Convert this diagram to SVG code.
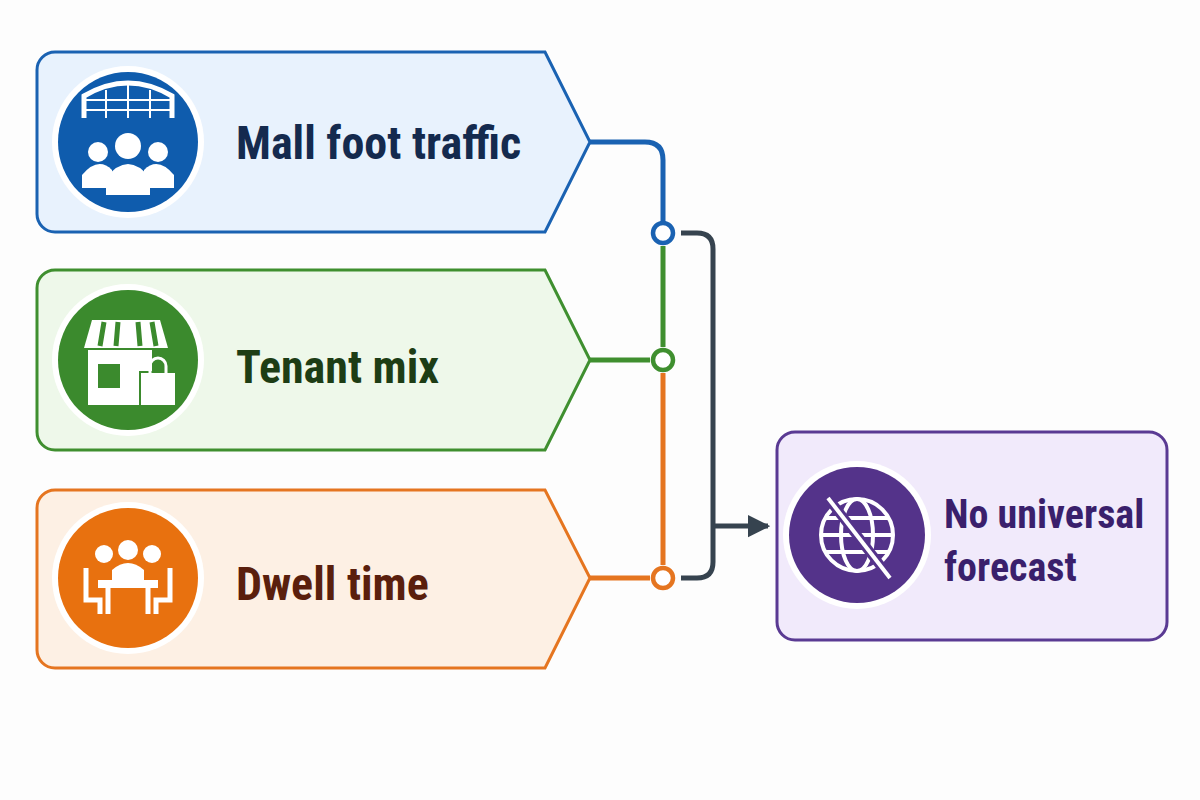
<svg xmlns="http://www.w3.org/2000/svg" width="1200" height="800" viewBox="0 0 1200 800">
<style>
.lbl{font-family:"Liberation Sans Narrow","Roboto Condensed","Liberation Sans",Arial,sans-serif;font-weight:bold;font-size:46px}
.w{fill:#fff}
.ws{stroke:#fff;fill:none}
</style>
<defs>
<marker id="ah" viewBox="0 0 10 10" refX="9" refY="5" markerWidth="4.5" markerHeight="5.5" orient="auto"><path d="M0,0L10,5L0,10z" fill="#36434f"/></marker>
</defs>
<rect width="1200" height="800" fill="#fdfdfd"/>
<g id="n1">
<path d="M55,52H545L590,142L545,232H55A18,18 0 0 1 37,214V70A18,18 0 0 1 55,52Z" fill="#e8f2fd" stroke="#1a62b2" stroke-width="3"/>
<circle cx="128" cy="142" r="76" fill="#fff"/><circle cx="128" cy="142" r="70" fill="#0f5cad"/>
<path d="M84,118V96Q128,70 172,96V118" class="ws" stroke-width="5"/>
<path d="M86,100H170M106,90V118M128,84V118M150,90V118M86,110H170" class="ws" stroke-width="2"/>
<circle cx="128" cy="146" r="13" class="w"/><path d="M106,195V178Q128,150 150,178V195Z" class="w"/>
<circle cx="98" cy="152" r="10" class="w"/><path d="M82,188V175Q98,156 112,170V188Z" class="w"/>
<circle cx="158" cy="152" r="10" class="w"/><path d="M144,170Q158,156 174,175V188H144Z" class="w"/>
<text x="236" y="159" class="lbl" fill="#142a4e">Mall foot traffic</text>
</g>
<g id="n2">
<path d="M55,270H545L590,360L545,450H55A18,18 0 0 1 37,432V288A18,18 0 0 1 55,270Z" fill="#eef8ea" stroke="#3f8f2f" stroke-width="3"/>
<circle cx="128" cy="360" r="76" fill="#fff"/><circle cx="128" cy="360" r="70" fill="#3b8a2d"/>
<path d="M92,320H160L168,348H84Z" class="w"/>
<path d="M104,322L100,346M118,322L116,346M138,322L140,346M152,322L156,346" stroke="#3b8a2d" stroke-width="5"/>
<rect x="88" y="350" width="64" height="55" class="w"/><rect x="98" y="364" width="22" height="24" fill="#3b8a2d"/>
<rect x="140" y="372" width="36" height="34" class="w" stroke="#3b8a2d" stroke-width="2"/>
<path d="M150,374V366A8,8 0 0 1 166,366V374" class="ws" stroke-width="3"/>
<text x="236" y="383" class="lbl" fill="#1d3d15">Tenant mix</text>
</g>
<g id="n3">
<path d="M55,490H545L590,578L545,668H55A18,18 0 0 1 37,650V508A18,18 0 0 1 55,490Z" fill="#fdf0e4" stroke="#e57520" stroke-width="3"/>
<circle cx="128" cy="578" r="76" fill="#fff"/><circle cx="128" cy="578" r="70" fill="#e8710f"/>
<circle cx="128" cy="550" r="10" class="w"/><path d="M112,580V570Q128,556 144,570V580Z" class="w"/>
<circle cx="104" cy="554" r="9" class="w"/><circle cx="152" cy="554" r="9" class="w"/>
<rect x="98" y="580" width="60" height="8" class="w"/><path d="M108,588V614M148,588V614" class="ws" stroke-width="5"/>
<path d="M86,568V600H100V614M170,568V600H156V614" class="ws" stroke-width="5"/>
<text x="236" y="600" class="lbl" fill="#5a1f0d">Dwell time</text>
</g>
<g id="n4">
<rect x="777" y="432" width="390" height="208" rx="18" fill="#f1eafb" stroke="#5a3a93" stroke-width="3"/>
<circle cx="857" cy="535" r="74" fill="#fff"/><circle cx="857" cy="535" r="68" fill="#54338a"/>
<g class="ws" stroke-width="4"><circle cx="857" cy="535" r="36"/><ellipse cx="857" cy="535" rx="16" ry="36"/><path d="M821,535H893M826,518H888M826,552H888"/></g>
<path d="M828,498L890,578" stroke="#54338a" stroke-width="10"/><path d="M828,498L890,578" stroke="#fff" stroke-width="4"/>
<text class="lbl" fill="#3a1f6c" style="font-size:40px"><tspan x="944" y="528">No universal</tspan><tspan x="944" y="581">forecast</tspan></text>
</g>
<g id="connectors" fill="none" stroke-width="5">
<path d="M590,142H645Q663,142 663,160V222" stroke="#1a62b2"/>
<circle cx="663" cy="233" r="10" stroke="#1a62b2" fill="#fff" stroke-width="4.5"/>
<path d="M663,246V347M590,360H650" stroke="#3f8f2f"/>
<circle cx="663" cy="360" r="10" stroke="#3f8f2f" fill="#fff" stroke-width="4.5"/>
<path d="M663,373V565M590,578H650" stroke="#e57520"/>
<circle cx="663" cy="578" r="10" stroke="#e57520" fill="#fff" stroke-width="4.5"/>
<path d="M681,233H697Q713,233 713,249V562Q713,578 697,578H681" stroke="#36434f"/>
<path d="M713,526H768" stroke="#36434f" marker-end="url(#ah)"/>
</g>
</svg>
